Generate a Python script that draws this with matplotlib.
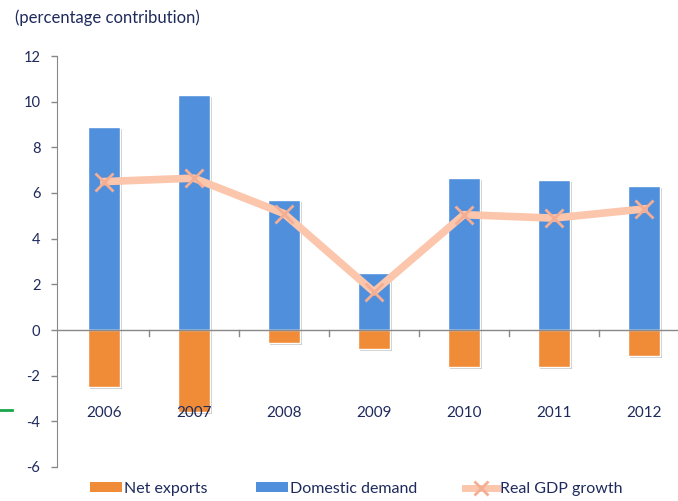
import matplotlib
matplotlib.use("Agg")
import matplotlib.pyplot as plt
import matplotlib.patheffects as pe
from matplotlib.lines import Line2D
from matplotlib.patches import Patch
import numpy as np

years = ["2006", "2007", "2008", "2009", "2010", "2011", "2012"]
domestic_demand = [8.9, 10.3, 5.7, 2.5, 6.65, 6.58, 6.3]
net_exports = [-2.5, -3.6, -0.57, -0.85, -1.63, -1.63, -1.13]
real_gdp = [6.5, 6.65, 5.1, 1.67, 5.05, 4.9, 5.3]
yticks = [-6, -4, -2, 0, 2, 4, 6, 8, 10, 12]

blue = "#4F8FDC"
orange = "#F08C38"
peach = "#FBC6AC"
peach_dark = "#F4AE94"
navy = "#1E2A5C"
font = "Lato"

fig = plt.figure(figsize=(6.78, 5.01), dpi=100)
ax = fig.add_axes([57/678, 1-467/501, 1-57/678, (467-56)/501])
x = np.arange(len(years))
w = 0.36
shadow = [pe.SimplePatchShadow(offset=(1.5, -1.5), shadow_rgbFace="#999999", alpha=0.5), pe.Normal()]
b1 = ax.bar(x, domestic_demand, w, color=blue, edgecolor="white", linewidth=1, zorder=2)
b2 = ax.bar(x, net_exports, w, color=orange, edgecolor="white", linewidth=1, zorder=2)
for b in list(b1) + list(b2):
    b.set_path_effects(shadow)
ax.plot(x, real_gdp, color=peach, lw=5.5, solid_joinstyle="round", zorder=4)
ax.plot(x, real_gdp, ls="none", marker="x", ms=13, mew=2, color=peach_dark, zorder=5)

ax.set_xlim(-0.522, 6.38)
ax.set_ylim(-6, 12)
ax.set_yticks(yticks)
ax.set_yticklabels([str(v) for v in yticks], fontfamily=font, fontsize=10.5, color=navy)
ax.tick_params(axis="y", direction="out", length=4, color="#888888", width=1, pad=8)
ax.set_xticks([])
for s in ["top", "right", "bottom"]:
    ax.spines[s].set_visible(False)
ax.spines["left"].set_color("#888888")
ax.axhline(0, color="#888888", lw=1, zorder=3)
for t in np.arange(0.5, 6.5, 1.0):
    ax.plot([t, t], [0, -0.25], color="#888888", lw=1, zorder=3, clip_on=False)
for xi, yr in zip(x, years):
    ax.text(xi, -3.65, yr, ha="center", va="center", fontfamily=font, fontsize=11, color=navy, zorder=6)

fig.text(15/678, 1-18/501, "(percentage contribution)", ha="left", va="center",
         fontfamily=font, fontsize=12, color=navy)

handles = [Patch(facecolor=orange), Patch(facecolor=blue),
           Line2D([0], [0], color=peach, lw=5, marker="x", ms=10, mew=2, mec=peach_dark)]
fig.legend(handles, ["Net exports", "Domestic demand", "Real GDP growth"], loc="lower center",
           bbox_to_anchor=(0.525, -0.018), ncol=3, frameon=False, prop={"family": font, "size": 11.5},
           labelcolor=navy, handlelength=2.0, handleheight=0.5, columnspacing=3.0, handletextpad=0.15)

fig.add_artist(Line2D([0, 12/678], [1-410/501, 1-410/501], color="#1AA64A", lw=2))

fig.savefig("out.png", dpi=100)
